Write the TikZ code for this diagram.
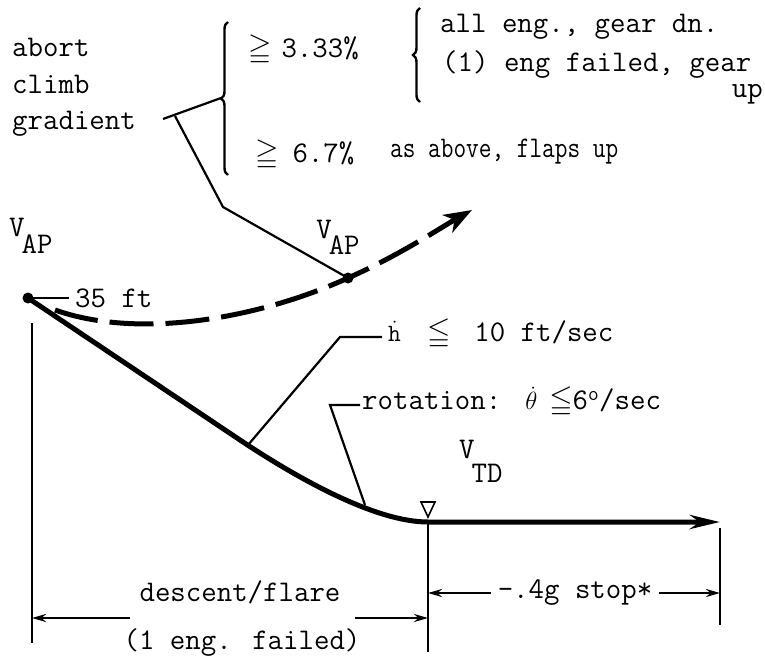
\documentclass[tikz,border=0pt]{standalone}
\usepackage{amssymb}
\usepackage{graphicx}
\usetikzlibrary{arrows.meta,positioning,decorations.pathreplacing}
\newcommand{\lowsub}[3][.55em]{#2\kern-.1em\raisebox{-#1}{#3}}

\begin{document}
\begin{tikzpicture}[
  x=1pt, y=-1pt,
  txt/.style={font=\fontsize{30}{36.5}\selectfont\ttfamily, inner sep=0pt},
  leader/.style={line width=2.2pt},
  track/.style={line width=5pt, line join=round},
  dimarr/.style={line width=2.2pt,-{Stealth[length=14pt,width=8pt]}},
  abortpath/.style={line width=5pt, dash pattern=on 44pt off 12pt,
    -{Stealth[length=28pt,width=20pt,inset=8pt]}},
  grp/.style={line width=2.4pt, decorate, decoration={brace,amplitude=7pt}}
]
\useasboundingbox (0,0) rectangle (765,660);

% points of the path
\coordinate (ap) at (28,298);
\coordinate (ab) at (348,278);
\coordinate (tip) at (472,210);
\coordinate (bend) at (240,440);
\coordinate (td) at (428,522);
\coordinate (stopend) at (720,522);

% abort climb requirements
\node[txt, anchor=north west, align=left] (agr) at (12,38) {abort\\climb\\gradient};
\node[txt, anchor=west] (ge1) at (248,50) {$\geqq$\hspace{10pt}3.33\%};
\node[txt, anchor=west] (ge2) at (255,155) {$\geqq$\hspace{14pt}6.7\%};
\node[txt, anchor=west] (asab) at (390,152) {\scalebox{0.82}[1]{as above, flaps up}};
\node[txt, anchor=west] (alleng) at (440,27) {all eng., gear dn.};
\node[txt, anchor=west] (failed) at (442,65) {(1) eng failed, gear};
\node[txt, anchor=east] (up) at (763,94) {up};

\draw[grp] (228,175) -- (228,22);
\draw[grp] (420,102) -- (420,8);
\coordinate (b1tip) at (221,98);
\coordinate (hook) at (163,119);
\coordinate (kink1) at (175,116);
\coordinate (kink2) at (223,207);
\draw[leader] (b1tip) -- (hook);
\draw[leader] (kink1) -- (kink2) -- (ab);

% speeds
\node[txt, anchor=north west] (vap1) at (9,218) {\lowsub{V}{AP}};
\node[txt, above=23pt of ab, xshift=-10pt] (vap2) {\lowsub{V}{AP}};
\node[txt, above right=39pt and 31pt of td] (vtd) {\lowsub[.8em]{V}{TD}};
\node[txt, right=47pt of ap] (ft) {35 ft};

% flight paths
\draw[abortpath] (55,310) .. controls (140,340) and (260,318) .. (ab)
  .. controls (400,255) and (440,228) .. (tip);
\draw[track, -{Stealth[length=30pt,width=14pt]}] (ap) -- (bend)
  .. controls (297,478) and (375,522) .. (td) -- (stopend);
\fill (ap) circle (5.5);
\fill (ab) circle (5.5);
\draw[leader, shorten >=6pt] (ap) -- (ft.west);
\draw[line width=1.6pt] ([shift={(-7,-20)}]td) -- ++(14,0) -- ++(-7,15) -- cycle;

% limits
\node[txt, anchor=west] (hdot) at (388,334) {$\dot{\mathtt h}$\hspace{26pt}$\leqq$\hspace{24pt}10 ft/sec};
\coordinate (hk) at (340,337);
\coordinate (hfoot) at (248,445);
\draw[leader] ([xshift=-6pt]hdot.west |- hk) -- (hk) -- (hfoot);
\node[txt, anchor=west] (rot) at (362,402) {rotation:\hspace{24pt}$\dot\theta$\hspace{12pt}$\leqq$6$^{\mathtt o}$/sec};
\coordinate (rk) at (330,405);
\coordinate (rfoot) at (365,505);
\draw[leader] ([xshift=-2pt]rot.west |- rk) -- (rk) -- (rfoot);

% distances
\coordinate (lt) at (32,323);
\coordinate (lb) at (32,643);
\coordinate (mb) at (428,652);
\coordinate (rt) at (720,528);
\coordinate (rb) at (720,625);
\draw[leader] (lt) -- (lb);
\draw[leader] (td) -- (mb);
\draw[leader] (rt) -- (rb);

\node[txt] (desc) at (240,592) {descent/flare};
\node[txt] (fail) at (242,643) {(1 eng. failed)};
\coordinate (dl) at (130,618);
\coordinate (dr) at (355,618);
\draw[dimarr] (dl) -- (dl -| lt);
\draw[dimarr] (dr) -- (dr -| td);

\node[txt, inner xsep=7pt] (stop) at (575,593) {-.4g stop*};
\draw[dimarr] (stop.west) -- (stop.west -| td);
\draw[dimarr] (stop.east) -- (stop.east -| rt);
\end{tikzpicture}
\end{document}
